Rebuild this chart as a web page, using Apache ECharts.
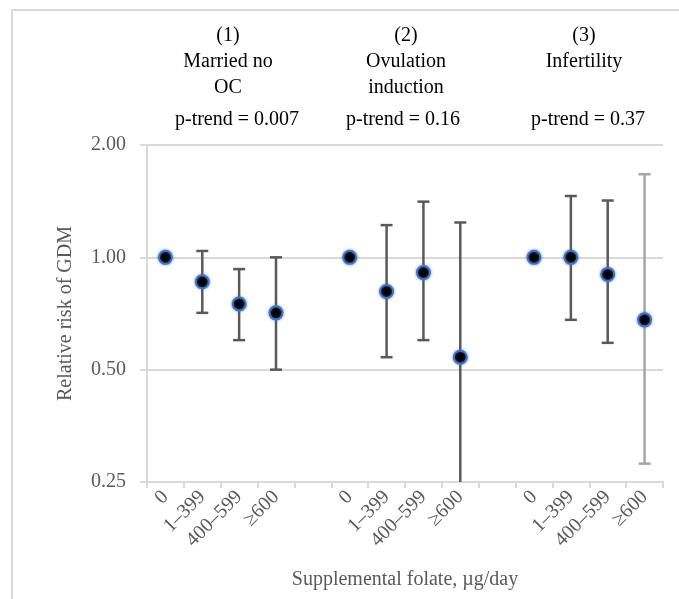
<!DOCTYPE html>
<html>
<head>
  <meta charset="utf-8">
  <title>Relative risk of GDM</title>
  <style>
    body { margin: 0; background: #fff; }
    #chart { width: 679px; height: 599px; }
  </style>
  <script src="https://cdn.jsdelivr.net/npm/echarts@6/dist/echarts.min.js"></script>
</head>
<body>
  <div id="chart"></div>
  <script>
    // folate categories, blank slots separate the three groups
    var categories = ['0', '1\u2013399', '400\u2013599', '\u2265600', '',
                      '0', '1\u2013399', '400\u2013599', '\u2265600', '',
                      '0', '1\u2013399', '400\u2013599', '\u2265600'];
    var rr    = [1.00, 0.86, 0.75, 0.71, null, 1.00, 0.81, 0.91, 0.54, null, 1.00, 1.00, 0.90, 0.68];
    var lower = [null, 0.71, 0.60, 0.50, null, null, 0.54, 0.60, 0.24, null, null, 0.68, 0.59, 0.28];
    var upper = [null, 1.04, 0.93, 1.00, null, null, 1.22, 1.41, 1.24, null, null, 1.46, 1.42, 1.67];
    var yTicks = [0.25, 0.5, 1, 2];
    var groupTitles = [
      ['(1)', 'Married no', 'OC', 'p-trend = 0.007'],
      ['(2)', 'Ovulation', 'induction', 'p-trend = 0.16'],
      ['(3)', 'Infertility', '', 'p-trend = 0.37']
    ];

    var serif = 'Liberation Serif';
    var grey = '#595959';

    var points = [];
    var bars = [];
    for (var i = 0; i < categories.length; i++) {
      if (rr[i] != null) points.push([i, rr[i]]);
      if (lower[i] != null) bars.push([i, lower[i], upper[i]]);
    }

    var chart = echarts.init(document.getElementById('chart'));

    // header text above each group
    var headerX = [228, 406, 584];
    var trendX = [237, 403, 588];
    var headerY = [36, 62, 88, 120];
    var graphics = [{
      type: 'polyline',
      shape: { points: [[12, 599], [12, 10], [679, 10]] },
      style: { stroke: '#d9d9d9', lineWidth: 2, fill: null }
    }];
    groupTitles.forEach(function (lines, g) {
      lines.forEach(function (t, k) {
        if (!t) return;
        graphics.push({
          type: 'text',
          x: k === 3 ? trendX[g] : headerX[g],
          y: headerY[k],
          style: {
            text: t,
            font: '20px "' + serif + '"',
            fill: '#000',
            textAlign: 'center',
            textVerticalAlign: 'middle'
          }
        });
      });
    });

    var option = {
      animation: false,
      grid: { left: 147, right: 16, top: 145, bottom: 117 },
      graphic: graphics,
      xAxis: {
        type: 'category',
        data: categories,
        boundaryGap: true,
        name: 'Supplemental folate, \u00b5g/day',
        nameLocation: 'middle',
        nameGap: 88,
        nameTextStyle: { fontFamily: serif, fontSize: 20, color: grey },
        axisLine: { lineStyle: { color: '#d9d9d9', width: 2 } },
        axisTick: { show: true, interval: 0, length: 6, lineStyle: { color: '#d9d9d9', width: 2 } },
        axisLabel: {
          interval: 0, rotate: 45, margin: 12,
          fontFamily: serif, fontSize: 20, color: grey
        }
      },
      yAxis: {
        type: 'log',
        logBase: 2,
        min: yTicks[0],
        max: yTicks[yTicks.length - 1],
        name: 'Relative risk of GDM',
        nameLocation: 'middle',
        nameGap: 71,
        nameRotate: 90,
        nameTextStyle: { fontFamily: serif, fontSize: 20, color: grey },
        axisLine: { show: true, lineStyle: { color: '#d9d9d9', width: 2 } },
        axisTick: { show: true, length: 7, lineStyle: { color: '#d9d9d9', width: 2 } },
        splitLine: { lineStyle: { color: '#d9d9d9', width: 2 } },
        axisLabel: {
          margin: 21,
          fontFamily: serif, fontSize: 20, color: grey,
          formatter: function (v) { return v.toFixed(2); }
        }
      },
      series: [{
        type: 'custom',
        data: bars,
        z: 2,
        renderItem: function (params, api) {
          var x = api.value(0);
          var lo = api.value(1);
          var hi = api.value(2);
          var min = yTicks[0];
          var clipped = lo < min;
          var top = api.coord([x, hi]);
          var bot = api.coord([x, clipped ? min : lo]);
          var color = params.dataIndex === bars.length - 1 ? '#a6a6a6' : '#595959';
          var style = { stroke: color, lineWidth: 2.5 };
          var half = 6;
          var kids = [
            { type: 'line', shape: { x1: top[0], y1: top[1], x2: bot[0], y2: bot[1] }, style: style },
            { type: 'line', shape: { x1: top[0] - half, y1: top[1], x2: top[0] + half, y2: top[1] }, style: style }
          ];
          if (!clipped) {
            kids.push({ type: 'line', shape: { x1: bot[0] - half, y1: bot[1], x2: bot[0] + half, y2: bot[1] }, style: style });
          }
          return { type: 'group', children: kids };
        }
      }, {
        type: 'scatter',
        data: points,
        z: 3,
        symbol: 'circle',
        symbolSize: 13,
        itemStyle: {
          color: '#000',
          borderColor: '#4472c4',
          borderWidth: 2,
          shadowColor: 'rgba(68,114,196,0.7)',
          shadowBlur: 3,
          opacity: 1
        }
      }]
    };

    chart.setOption(option);
  </script>
</body>
</html>
